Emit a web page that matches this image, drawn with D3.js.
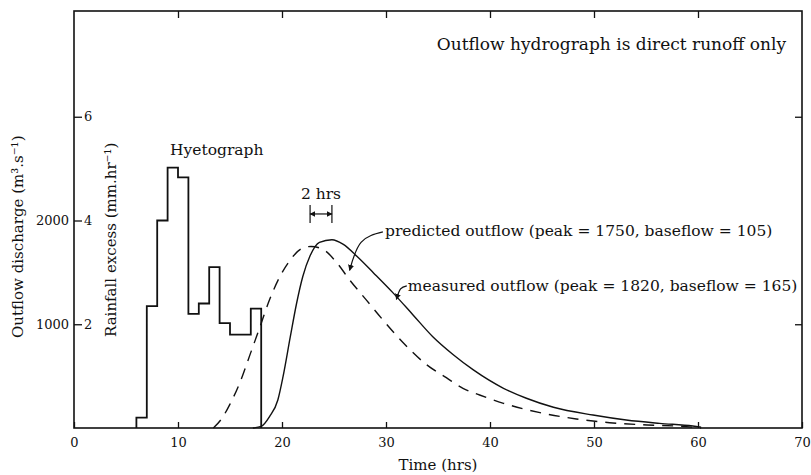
<!doctype html>
<html>
  <head>
    <script src="https://cdnjs.cloudflare.com/ajax/libs/d3/7.8.5/d3.min.js"></script>
    <style>
      body { margin: 0; background: #fff; }
      svg { display: block; font-family: "DejaVu Serif", serif; }
      rect.frame { fill: none; stroke: #111; stroke-width: 1.6; }
      .axis text { font-family: "DejaVu Serif", serif; font-size: 13px; fill: #111; }
      .axis line { stroke: #111; stroke-width: 1.3; }
      path.hyeto { fill: none; stroke: #111; stroke-width: 1.8; }
      path.measured { fill: none; stroke: #111; stroke-width: 1.4; }
      path.predicted { fill: none; stroke: #111; stroke-width: 1.4; stroke-dasharray: 11 8; }
      path.leader, line.bracket { fill: none; stroke: #111; stroke-width: 1.2; }
      text.note { font-size: 15.5px; fill: #111; }
      text.title { font-size: 15px; fill: #111; }
    </style>
  </head>
  <body>
    <svg width="811" height="475"></svg>
    <script>
      // axis ticks
      var timeTicks = [0, 10, 20, 30, 40, 50, 60, 70];
      var rainTicks = [2, 4, 6];
      var flowTicks = [1000, 2000];

      // hyetograph: 1-hr blocks of rainfall excess (mm/hr)
      var hyetoTime = [6, 7, 8, 9, 10, 11, 12, 13, 14, 15, 16, 17];
      var hyetoRain = [0.2, 2.35, 4.0, 5.02, 4.83, 2.2, 2.4, 3.1, 2.02, 1.8, 1.8, 2.3];
      var hyetoEnd = 18;

      // measured outflow (solid)
      var measuredTime = [17.2, 18.0, 18.8, 19.6, 20.1, 20.8, 21.4, 22.0, 22.7, 23.6, 24.8, 25.9, 27.2,
                          28.8, 30.7, 32.6, 34.5, 36.5, 38.4, 41.3, 43.5, 46.1, 49.9, 53.1, 56.3, 59.5, 60.3];
      var measuredFlow = [0, 15, 110, 270, 495, 880, 1200, 1460, 1660, 1790, 1815, 1770, 1655,
                          1495, 1300, 1090, 880, 704, 560, 383, 287, 200, 125, 77, 45, 19, 8];

      // predicted outflow (dashed)
      var predictedTime = [13.4, 14.2, 15.0, 16.0, 16.9, 17.9, 18.8, 19.8, 20.8, 21.9, 22.8, 24.0, 25.3, 26.5,
                           28.1, 29.7, 31.7, 33.9, 35.8, 37.4, 39.0, 41.3, 44.8, 48.3, 51.5, 55.1, 58.9, 60.3];
      var predictedFlow = [0, 90, 230, 450, 700, 980, 1235, 1460, 1620, 1730, 1750, 1718, 1589, 1428,
                           1235, 1042, 817, 610, 485, 383, 318, 238, 148, 87, 51, 29, 13, 0];

      // annotations (time, discharge)
      var bracketTime = [22.7, 24.8];
      var bracketFlow = 2063;
      var predictedLeader = [[29.7, 1890], [27.6, 1790], [26.5, 1520]];
      var measuredLeader = [[32.0, 1370], [31.4, 1340], [31.0, 1240]];

      var svg = d3.select("svg");
      var plotLeft = 74, plotRight = 802, plotTop = 11, plotBottom = 428;

      var x = d3.scaleLinear().domain([0, 70]).range([plotLeft, plotRight]);
      var yRain = d3.scaleLinear().domain([0, 8]).range([plotBottom, 13]);
      var yFlow = d3.scaleLinear().domain([0, 4000]).range([plotBottom, 13]);

      var defs = svg.append("defs");
      defs.append("marker")
          .attr("id", "arrow")
          .attr("viewBox", "0 0 10 10")
          .attr("refX", 9).attr("refY", 5)
          .attr("markerWidth", 6).attr("markerHeight", 6)
          .attr("markerUnits", "userSpaceOnUse")
          .attr("orient", "auto-start-reverse")
        .append("path")
          .attr("d", "M0,0L10,5L0,10")
          .attr("fill", "#111");

      // axes
      svg.append("g").attr("class", "axis")
          .attr("transform", "translate(0," + plotBottom + ")")
          .call(d3.axisBottom(x).tickValues(timeTicks).tickSizeInner(-6).tickSizeOuter(0).tickPadding(10))
          .call(g => g.select(".domain").remove());

      svg.append("g").attr("class", "axis")
          .attr("transform", "translate(0," + plotTop + ")")
          .call(d3.axisTop(x).tickValues(timeTicks.slice(1, -1)).tickSizeInner(-7).tickSizeOuter(0).tickFormat(""))
          .call(g => g.select(".domain").remove());

      svg.append("g").attr("class", "axis")
          .attr("transform", "translate(" + plotLeft + ",0)")
          .call(d3.axisRight(yRain).tickValues(rainTicks).tickSize(8).tickPadding(2))
          .call(g => g.select(".domain").remove());

      svg.append("g").attr("class", "axis")
          .attr("transform", "translate(" + plotLeft + ",0)")
          .call(d3.axisLeft(yFlow).tickValues(flowTicks).tickSize(0).tickPadding(5).tickFormat(d3.format("d")))
          .call(g => g.select(".domain").remove());

      svg.append("g").attr("class", "axis")
          .attr("transform", "translate(" + plotRight + ",0)")
          .call(d3.axisLeft(yRain).tickValues([2, 6]).tickSize(7).tickFormat(""))
          .call(g => g.select(".domain").remove());

      svg.append("rect").attr("class", "frame")
          .attr("x", plotLeft).attr("y", plotTop)
          .attr("width", plotRight - plotLeft).attr("height", plotBottom - plotTop);

      // hyetograph
      var hyetoPts = [[hyetoTime[0], 0]]
        .concat(hyetoTime.map((t, i) => [t, hyetoRain[i]]))
        .concat([[hyetoEnd, 0]]);
      svg.append("path").attr("class", "hyeto")
          .datum(hyetoPts)
          .attr("d", d3.line().x(d => x(d[0])).y(d => yRain(d[1])).curve(d3.curveStepAfter));

      // outflow curves
      var flowLine = d3.line().x(d => x(d[0])).y(d => yFlow(d[1])).curve(d3.curveMonotoneX);
      svg.append("path").attr("class", "predicted")
          .datum(predictedTime.map((t, i) => [t, predictedFlow[i]]))
          .attr("d", flowLine);
      svg.append("path").attr("class", "measured")
          .datum(measuredTime.map((t, i) => [t, measuredFlow[i]]))
          .attr("d", flowLine);

      // leaders
      var leaderLine = d3.line().x(d => x(d[0])).y(d => yFlow(d[1])).curve(d3.curveNatural);
      [predictedLeader, measuredLeader].forEach(pts => {
        svg.append("path").attr("class", "leader")
            .datum(pts)
            .attr("d", leaderLine)
            .attr("marker-end", "url(#arrow)");
      });

      // 2 hrs bracket
      var by = yFlow(bracketFlow);
      svg.append("line").attr("class", "bracket")
          .attr("x1", x(bracketTime[0])).attr("x2", x(bracketTime[1]))
          .attr("y1", by).attr("y2", by)
          .attr("marker-start", "url(#arrow)").attr("marker-end", "url(#arrow)");
      bracketTime.forEach(t => {
        svg.append("line").attr("class", "bracket")
            .attr("x1", x(t)).attr("x2", x(t))
            .attr("y1", by - 9).attr("y2", by + 9);
      });

      // texts
      svg.append("text").attr("class", "note")
          .attr("x", x(d3.mean(bracketTime))).attr("y", yFlow(2208))
          .attr("text-anchor", "middle").text("2 hrs");
      svg.append("text").attr("class", "note")
          .attr("x", x(29.9)).attr("y", yFlow(1846))
          .text("predicted outflow (peak = 1750, baseflow = 105)");
      svg.append("text").attr("class", "note")
          .attr("x", x(32.1)).attr("y", yFlow(1316))
          .text("measured outflow (peak = 1820, baseflow = 165)");
      svg.append("text").attr("class", "note")
          .attr("x", x(9.23)).attr("y", yRain(5.26))
          .text("Hyetograph");
      svg.append("text").attr("class", "note")
          .attr("x", 786).attr("y", 50)
          .attr("text-anchor", "end")
          .style("font-size", "17px")
          .text("Outflow hydrograph is direct runoff only");

      svg.append("text").attr("class", "title")
          .attr("transform", "translate(23,338) rotate(-90)")
          .text("Outflow discharge (m³.s⁻¹)");
      svg.append("text").attr("class", "title")
          .attr("transform", "translate(116,337) rotate(-90)")
          .text("Rainfall excess (mm.hr⁻¹)");
      svg.append("text").attr("class", "title")
          .attr("x", (plotLeft + plotRight) / 2).attr("y", 470)
          .attr("text-anchor", "middle")
          .text("Time (hrs)");
    </script>
  </body>
</html>
